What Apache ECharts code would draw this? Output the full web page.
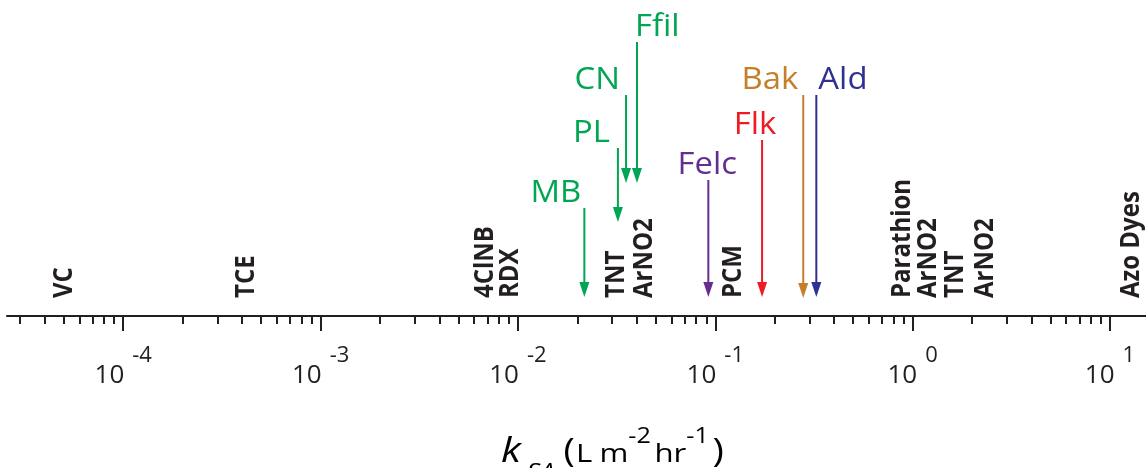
<!DOCTYPE html>
<html><head><meta charset="utf-8">
<script src="https://cdn.jsdelivr.net/npm/echarts@6/dist/echarts.min.js"></script>
<style>html,body{margin:0;padding:0;background:#fff}#c{width:1146px;height:468px}</style>
</head><body><div id="c"></div>
<script>
// ---- data ----
const compoundNames = ['VC','TCE','4ClNB','RDX','TNT','ArNO2','PCM','Parathion','ArNO2','TNT','ArNO2','Azo Dyes'];
const compoundK     = [5.0e-5, 4.2e-4, 6.8e-3, 9.1e-3, 0.0314, 0.0436, 0.123, 0.88, 1.20, 1.64, 2.34, 12.8];

const materialNames = ['MB','PL','CN','Ffil','Felc','Flk','Bak','Ald'];
const materialK     = [0.0217, 0.0321, 0.0353, 0.0401, 0.0922, 0.1726, 0.279, 0.325];
const arrowTop      = [108, 168, 221, 274, 136, 176, 221, 221];
const arrowTip      = [19, 94, 133, 133, 19, 19, 18, 19];

const majorTicks     = [1e-4, 1e-3, 1e-2, 1e-1, 1, 10];
const majorExponents = ['-4','-3','-2','-1','0','1'];
const minorMantissas = [2,3,4,5,6,7,8,9];
const minorDecades   = [1e-5, 1e-4, 1e-3, 1e-2, 1e-1, 1, 10];
const axisMin = 2.576e-5, axisMax = 15.22;

// ---- styles ----
const materialColors = ['#00a651','#00a651','#00a651','#00a651','#662d91','#ed1c24','#c47f2a','#2e3192'];
const labelAlign = ['right','right','right','left','center','center','right','left'];
const labelDx    = [-3, -8, -6, -2, -1, -7, -5, 2];
const dark = '#231f20';

const minorTicks = [];
minorDecades.forEach(d => minorMantissas.forEach(m => {
  const v = m * d; if (v >= axisMin && v <= axisMax) minorTicks.push(v);
}));

const F = 'Open Sans';
const chart = echarts.init(document.getElementById('c'), null, {renderer: 'canvas'});
chart.setOption({
  animation: false,
  backgroundColor: '#fff',
  grid: {left: 7, right: 0, top: 16, bottom: 152, containLabel: false, outerBoundsMode: 'none'},
  xAxis: [
    {
      type: 'log', min: axisMin, max: axisMax, position: 'bottom',
      axisLine: {show: true, lineStyle: {color: dark, width: 2}},
      axisTick: {show: true, customValues: majorTicks, length: 15, lineStyle: {color: dark, width: 2}},
      minorTick: {show: false}, splitLine: {show: false},
      axisLabel: {
        customValues: majorTicks, margin: 29, color: dark,
        formatter: function (v) {
          let idx = majorTicks.findIndex(t => Math.abs(Math.log10(t) - Math.log10(v)) < 1e-6);
          return '{b|10}{e|' + majorExponents[idx] + '}';
        },
        rich: {
          b: {fontSize: 26, fontFamily: F, color: dark, verticalAlign: 'bottom', lineHeight: 44},
          e: {fontSize: 22, fontFamily: F, color: dark, verticalAlign: 'top', padding: [0, 0, 0, 8]}
        }
      }
    },
    {
      type: 'log', min: axisMin, max: axisMax, position: 'bottom', offset: 0,
      axisLine: {show: false},
      axisTick: {show: true, customValues: minorTicks, length: 8, lineStyle: {color: dark, width: 2}},
      minorTick: {show: false}, splitLine: {show: false},
      axisLabel: {show: false}
    }
  ],
  yAxis: {type: 'value', min: 0, max: 300, show: false},
  series: [
    {
      type: 'custom', xAxisIndex: 0, clip: false,
      data: compoundK.map((k, i) => [k, 18, i]),
      renderItem: function (params, api) {
        const i = api.value(2);
        const p = api.coord([api.value(0), api.value(1)]);
        return {
          type: 'text', x: p[0], y: p[1], rotation: Math.PI / 2, scaleY: 1.15,
          style: {text: compoundNames[i], fill: dark, fontSize: 24, fontWeight: 'bold',
                  fontFamily: F, align: 'left', verticalAlign: 'middle'}
        };
      }
    },
    {
      type: 'custom', xAxisIndex: 0, clip: false,
      data: materialK.map((k, i) => [k, arrowTop[i], arrowTip[i], i]),
      renderItem: function (params, api) {
        const i = api.value(3);
        const top = api.coord([api.value(0), api.value(1)]);
        const tip = api.coord([api.value(0), api.value(2)]);
        const c = materialColors[i];
        const hH = 15, hW = 10;
        return {
          type: 'group', children: [
            {type: 'line', shape: {x1: top[0], y1: top[1], x2: tip[0], y2: tip[1] - hH + 2},
             style: {stroke: c, lineWidth: 2}},
            {type: 'polygon', shape: {points: [[tip[0] - hW / 2, tip[1] - hH], [tip[0] + hW / 2, tip[1] - hH], [tip[0], tip[1]]]},
             style: {fill: c}},
            {type: 'text', x: top[0] + labelDx[i], y: top[1] + 1, scaleX: 1.06,
             style: {text: materialNames[i], fill: c, fontSize: 31, fontFamily: F,
                     align: labelAlign[i], verticalAlign: 'bottom'}}
          ]
        };
      }
    }
  ],
  graphic: [{
    type: 'text', x: 501, y: 484, scaleX: 1.2,
    style: {
      text: '{k|k}{sub|SA}{p|(}{n|L}{m|m}{sup|-2}{h|hr}{sup2|-1}{q|)}',
      align: 'left', verticalAlign: 'bottom',
      rich: {
        k:    {fontSize: 34, fontStyle: 'italic', fontFamily: F, color: dark, verticalAlign: 'bottom', padding: [0, 5, 15, 0]},
        sub:  {fontSize: 22, fontStyle: 'italic', fontFamily: F, color: dark, verticalAlign: 'bottom', padding: [0, 0, 0, 0]},
        p:    {fontSize: 32, fontFamily: F, color: dark, verticalAlign: 'bottom', padding: [0, 0, 15, 7]},
        q:    {fontSize: 32, fontFamily: F, color: dark, verticalAlign: 'bottom', padding: [0, 0, 15, 3]},
        n:    {fontSize: 26, fontFamily: F, color: dark, verticalAlign: 'bottom', padding: [0, 0, 16, 1]},
        m:    {fontSize: 26, fontFamily: F, color: dark, verticalAlign: 'bottom', padding: [0, 0, 16, 6]},
        h:    {fontSize: 26, fontFamily: F, color: dark, verticalAlign: 'bottom', padding: [0, 0, 16, 3]},
        sup:  {fontSize: 21, fontFamily: F, color: dark, verticalAlign: 'bottom', padding: [0, 0, 36, 0]},
        sup2: {fontSize: 21, fontFamily: F, color: dark, verticalAlign: 'bottom', padding: [0, 0, 36, 0]}
      }
    }
  }]
});
</script></body></html>
